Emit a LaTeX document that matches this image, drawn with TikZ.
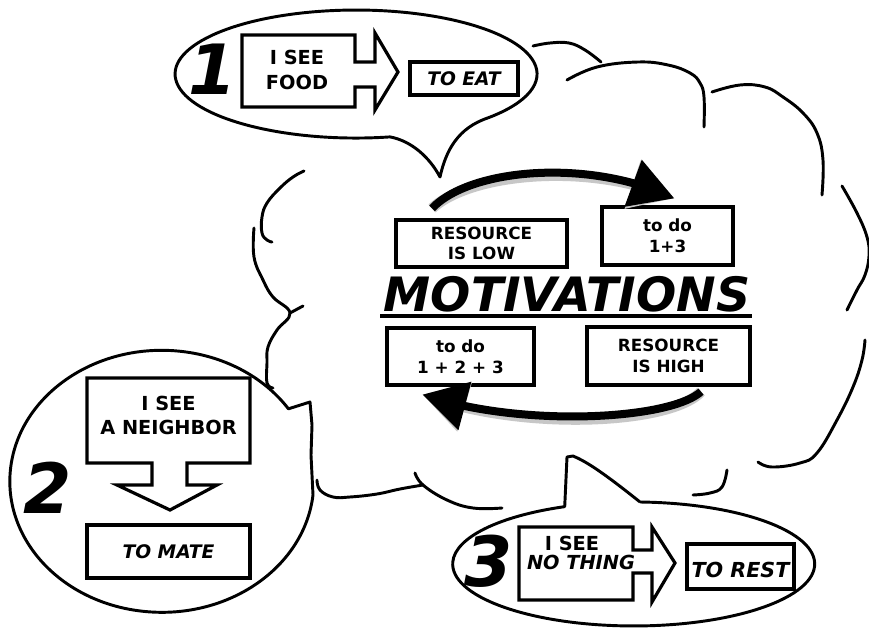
\documentclass[tikz,border=0pt]{standalone}
\usepackage{fontspec}
\setmainfont{DejaVu Sans}
\usetikzlibrary{arrows.meta,bending}
\newlength\pxu
\setlength\pxu{0.75pt}
\begin{document}
\begin{tikzpicture}[x=0.75pt,y=-0.75pt,
  cloudline/.style={line width=2.2pt,line cap=round,line join=round},
  bubble/.style={line width=2.2pt,line join=round},
  shapeline/.style={line width=2.4pt,line join=miter},
  box/.style={draw,line width=2.4pt,inner sep=0pt,align=center},
  boxtxt/.style={font=\fontsize{12.6}{15.5}\selectfont\bfseries},
  seetxt/.style={font=\fontsize{14.5}{18.5}\selectfont\bfseries,align=center,inner sep=0pt},
  dotxt/.style={font=\fontsize{14}{16}\selectfont\bfseries\itshape},
  numtxt/.style={font=\fontsize{52}{52}\selectfont\bfseries\itshape,inner sep=0pt},
  bigarrow/.style={line width=6pt,-{Triangle[length=33pt,width=36pt]}},
  shadowarrow/.style={line width=8pt,draw=black!22,-{Triangle[length=33pt,width=36pt]}}
]
\fill[white] (0,0) rectangle (869,629);
\useasboundingbox (0,0) rectangle (869,629);

% ---------- cloud outline pieces ----------
\draw[cloudline] plot[smooth,tension=0.7] coordinates {(533,46) (550,43) (569,43) (585,50) (601,62)};
\draw[cloudline] plot[smooth,tension=0.7] coordinates {(567,80) (597,67) (638,62) (668,65) (690,73) (700,83) (704,97) (704,127)};
\draw[cloudline] plot[smooth,tension=0.7] coordinates {(712,92) (740,85) (765,87) (783,97) (803,113) (817,133) (823,160) (822,195)};
\draw[cloudline] plot[smooth,tension=0.7] coordinates {(842,186) (857,213) (867,237) (869,256) (865,275) (857,290) (847,310)};
\draw[cloudline] plot[smooth,tension=0.7] coordinates {(865,340) (862,360) (853,387) (837,420) (817,453) (800,463) (772,467) (758,462)};
\draw[cloudline] plot[smooth,tension=0.7] coordinates {(727,470) (722,487) (710,493) (693,495)};
\draw[cloudline] plot[smooth,tension=0.7] coordinates {(317,480) (320,490) (333,497) (350,497) (377,494) (400,489) (423,485)};
\draw[cloudline] plot[smooth,tension=0.7] coordinates {(415,473) (423,485) (447,500) (473,508) (502,508)};
\draw[cloudline] plot[smooth,tension=0.7] coordinates {(254,228) (254,257) (263,280) (273,297) (290,313) (277,330) (268,347) (267,363) (267,383) (273,388)};
\draw[cloudline] (290,313) -- (303,306);
\draw[cloudline] plot[smooth,tension=0.7] coordinates {(304,171) (293,177) (280,188) (267,203) (262,217) (262,233) (267,240) (272,242)};

% ---------- bubble 1 ----------
\draw[bubble] (390,136.9) arc[start angle=79.2,end angle=403.2,x radius=181,y radius=64]
  .. controls (458,128) and (446,150) .. (440,177)
  .. controls (430,158) and (412,141) .. cycle;
\draw[shapeline] (242,35) -- (355,35) -- (355,62) -- (375,62) -- (375,33) -- (398,72)
  -- (375,110) -- (375,87) -- (355,87) -- (355,107) -- (242,107) -- cycle;
\node[seetxt] (food) at (297,70) {I SEE\\FOOD};
\node[box,minimum width=108\pxu,minimum height=33\pxu,dotxt] (eat) at (464,78.5) {TO EAT};
\node[numtxt] (n1) at (213,69) {1};

% ---------- bubble 2 ----------
\draw[bubble] (313,495) arc[start angle=6,end angle=326.4,x radius=152,y radius=131]
  -- (310,402) -- (312,425) -- (311,455) -- cycle;
\draw[shapeline] (87,378) -- (250,378) -- (250,463) -- (187,463) -- (187,485) -- (217,485)
  -- (170,510) -- (117,485) -- (152,485) -- (152,463) -- (87,463) -- cycle;
\node[seetxt,font=\fontsize{14.5}{18}\selectfont\bfseries] (neigh) at (168.5,415) {I SEE\\A NEIGHBOR};
\node[box,minimum width=163\pxu,minimum height=53\pxu,dotxt] (mate) at (168.5,551.5) {TO MATE};
\node[numtxt] (n2) at (48,488) {2};

% ---------- bubble 3 ----------
\draw[bubble] (640,502) arc[start angle=272,end angle=607.6,x radius=181,y radius=62]
  -- (567,457) -- (573,456) .. controls (585,461) and (600,470) .. (640,502);
\draw[shapeline] (519,527) -- (633,527) -- (633,550) -- (652,550) -- (652,527) -- (675,563)
  -- (652,602) -- (652,573) -- (633,573) -- (633,600) -- (519,600) -- cycle;
\node[seetxt] (see3) at (572,543.5) {I SEE};
\node[seetxt,font=\fontsize{14.5}{18}\selectfont\bfseries\itshape] (nothing) at (581,562.5) {NO THING};
\node[box,minimum width=107\pxu,minimum height=45\pxu] (rest) at (740.5,566.5) {};
\node[font=\fontsize{15.5}{18}\selectfont\bfseries\itshape,inner sep=0pt] (resttxt) at (740.5,569.5) {TO REST};
\node[numtxt] (n3) at (489,561) {3};

% ---------- centre ----------
\node[box,minimum width=171\pxu,minimum height=47\pxu,boxtxt] (low) at (481.5,243.5) {RESOURCE\\IS LOW};
\node[box,minimum width=131\pxu,minimum height=58\pxu,boxtxt] (todo13) at (667.5,236) {to do\\1+3};
\node[box,minimum width=147\pxu,minimum height=57\pxu,boxtxt] (todo123) at (460.5,356.5) {to do\\1 + 2 + 3};
\node[box,minimum width=163\pxu,minimum height=58\pxu,boxtxt] (high) at (668.5,356) {RESOURCE\\IS HIGH};
\node[font=\fontsize{35.5}{35}\selectfont\bfseries\itshape,inner sep=0pt] (mot) at (567,294) {MOTIVATIONS};
\draw[line width=3pt] (380,316) -- (752,316);

% cycle arrows (soft shadow first)
\begin{scope}[xshift=1.5pt,yshift=-3pt]
\draw[shadowarrow] ([shift={(-49.5,-10)}]low.north) .. controls (470,168) and (590,158) .. ([shift={(74,-7)}]todo13.north west);
\draw[shadowarrow] ([shift={(32.5,5)}]high.south) .. controls (670,420) and (520,428) .. ([shift={(37,8)}]todo123.south west);
\end{scope}
\draw[bigarrow] ([shift={(-49.5,-10)}]low.north) .. controls (470,168) and (590,158) .. ([shift={(74,-7)}]todo13.north west);
\draw[bigarrow] ([shift={(32.5,5)}]high.south) .. controls (670,420) and (520,428) .. ([shift={(37,8)}]todo123.south west);
\end{tikzpicture}
\end{document}
